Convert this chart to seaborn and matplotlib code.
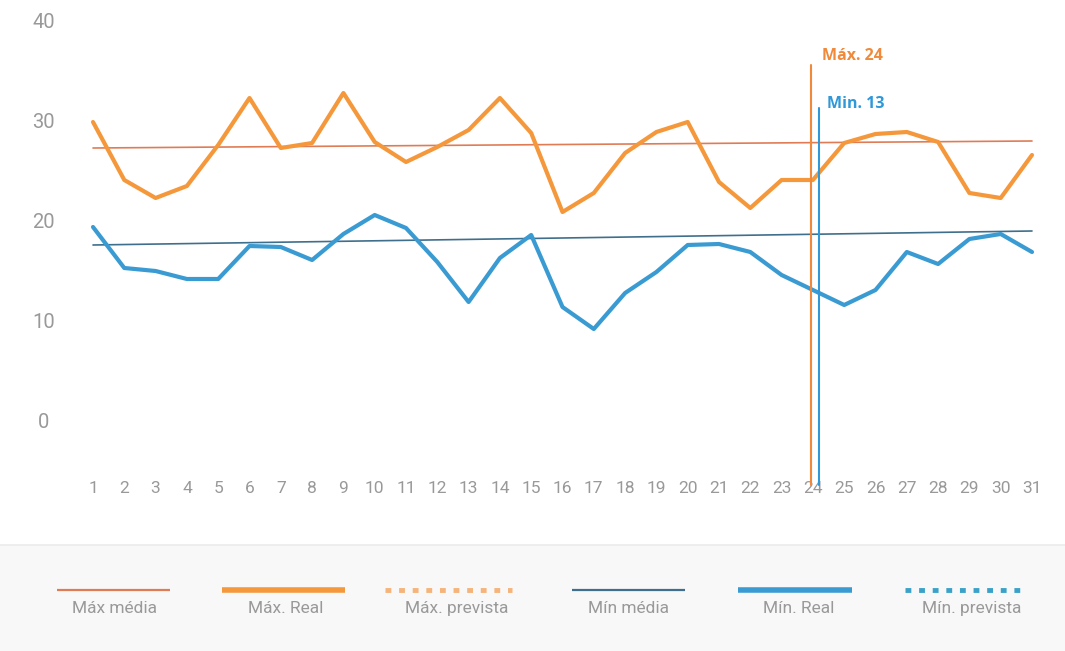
import matplotlib
matplotlib.use("Agg")
import matplotlib.pyplot as plt
import seaborn as sns
import pandas as pd

# Daily temperatures for the month (°C)
days = list(range(1, 32))
max_real = [29.8, 24.0, 22.2, 23.4, 27.5, 32.2, 27.2, 27.7, 32.7, 27.8, 25.8,
            27.3, 29.0, 32.2, 28.7, 20.8, 22.7, 26.7, 28.8, 29.8, 23.8, 21.2,
            24.0, 24.0, 27.7, 28.6, 28.8, 27.8, 22.7, 22.2, 26.5]
min_real = [19.3, 15.2, 14.9, 14.1, 14.1, 17.4, 17.3, 16.0, 18.6, 20.5, 19.2,
            15.8, 11.8, 16.2, 18.5, 11.3, 9.1, 12.7, 14.8, 17.5, 17.6, 16.8,
            14.5, 13.0, 11.5, 13.0, 16.8, 15.6, 18.1, 18.6, 16.8]

# Climatological means (straight trend from first to last day)
media_days = [1, 31]
max_media = [27.2, 27.9]
min_media = [17.5, 18.9]

today = 24
y_ticks = [0, 10, 20, 30, 40]
legend_labels = ["Máx média", "Máx. Real", "Máx. prevista",
                 "Mín média", "Mín. Real", "Mín. prevista"]

C_MAX = "#f5983c"
C_MAX_MED = "#e07c55"
C_MIN = "#3a9bd3"
C_MIN_MED = "#3f6f8c"
C_TXT = "#999999"

sns.set_theme(style="white")
plt.rcParams["font.family"] = ["Roboto", "DejaVu Sans"]
plt.rcParams["font.weight"] = "normal"

W, H = 1065, 651
fig = plt.figure(figsize=(W / 100, H / 100), dpi=100)
fig.patch.set_facecolor("white")

left_px, right_px, top_px, bot_px = 77.35, 1047.65, 10, 485
ax = fig.add_axes([left_px / W, 1 - bot_px / H,
                   (right_px - left_px) / W, (bot_px - top_px) / H])

df_max = pd.DataFrame({"dia": days, "temp": max_real})
df_min = pd.DataFrame({"dia": days, "temp": min_real})
df_max_med = pd.DataFrame({"dia": media_days, "temp": max_media})
df_min_med = pd.DataFrame({"dia": media_days, "temp": min_media})

sns.lineplot(data=df_max_med, x="dia", y="temp", ax=ax, color=C_MAX_MED, lw=1.2)
sns.lineplot(data=df_min_med, x="dia", y="temp", ax=ax, color=C_MIN_MED, lw=1.2)
sns.lineplot(data=df_max, x="dia", y="temp", ax=ax, color=C_MAX, lw=3.0)
sns.lineplot(data=df_min, x="dia", y="temp", ax=ax, color=C_MIN, lw=3.0)

ax.set_xlim(0.5, 31.5)
ax.set_ylim(-6.5, 41)

# Markers for the current day
t_max = round(max_real[today - 1])
t_min = round(min_real[today - 1])
ax.plot([today - 0.05, today - 0.05], [-6.5, 35.5], color="#f08a3a", lw=1.5,
        clip_on=False, zorder=5)
ax.plot([today + 0.2, today + 0.2], [-6.5, 31.2], color="#2f98d8", lw=1.5,
        clip_on=False, zorder=5)
ax.text(today + 0.3, 36.4, f"Máx. {t_max}", color="#f08a3a", fontsize=11.5,
        fontweight="bold", family=["Open Sans", "DejaVu Sans"], va="center")
ax.text(today + 0.45, 31.6, f"Min. {t_min}", color="#2f98d8", fontsize=11.5,
        fontweight="bold", family=["Open Sans", "DejaVu Sans"], va="center")

ax.set_xticks(days)
ax.set_xticklabels([str(d) for d in days])
ax.set_yticks(y_ticks)
ax.set_yticklabels([str(v) for v in y_ticks])
ax.tick_params(axis="x", length=0, pad=-3, labelsize=12.5, colors=C_TXT)
ax.tick_params(axis="y", length=0, pad=24.5, labelsize=14.5, colors=C_TXT)
for lab in ax.get_yticklabels():
    lab.set_ha("center")
ax.set_xlabel("")
ax.set_ylabel("")
for s in ax.spines.values():
    s.set_visible(False)
ax.grid(False)
ax.set_facecolor("none")

# Legend panel at the bottom
leg = fig.add_axes([0, 0, 1, 106 / H])
leg.set_xlim(0, W)
leg.set_ylim(H, H - 106)
leg.set_facecolor("#f8f8f8")
for s in leg.spines.values():
    s.set_visible(False)
leg.spines["top"].set_visible(True)
leg.spines["top"].set_color("#ececec")
leg.set_xticks([])
leg.set_yticks([])

styles = [
    dict(color=C_MAX_MED, lw=1.6, ls="-"),
    dict(color=C_MAX, lw=4.0, ls="-"),
    dict(color="#f5b47a", lw=3.5, ls=(0, (1.2, 1.6))),
    dict(color=C_MIN_MED, lw=1.6, ls="-"),
    dict(color=C_MIN, lw=4.0, ls="-"),
    dict(color="#3aa2c8", lw=3.5, ls=(0, (1.2, 1.6))),
]
line_spans = [(57, 170), (222, 345), (385, 512), (572, 685), (738, 852), (905, 1022)]
label_centers = [115, 286, 457, 629, 799, 972]
for (x0, x1), xc, lab, st in zip(line_spans, label_centers, legend_labels, styles):
    leg.plot([x0, x1], [590, 590], solid_capstyle="butt", **st)
    leg.text(xc, 608, lab, ha="center", va="center", fontsize=12.5, color=C_TXT)

fig.savefig("out.png", dpi=100)
